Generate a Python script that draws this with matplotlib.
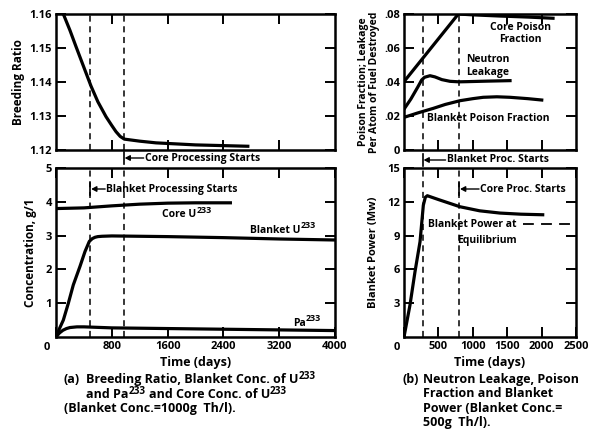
import matplotlib
matplotlib.use("Agg")
import matplotlib.pyplot as plt

FONT = "Open Sans"
plt.rcParams['font.family'] = [FONT, 'DejaVu Sans']
plt.rcParams['font.weight'] = 'bold'

# ---------------- data (a) ----------------
br_days = [105, 200, 287, 400, 502, 600, 717, 800, 860, 920, 980, 1200, 1434, 2000, 2750]
br_vals = [1.160, 1.1552, 1.1504, 1.1443, 1.1388, 1.1342, 1.1298, 1.1272, 1.1254, 1.1240,
           1.1232, 1.1226, 1.1221, 1.1215, 1.1211]

core_days = [0, 400, 800, 1200, 1600, 2000, 2500]
core_vals = [3.80, 3.82, 3.88, 3.93, 3.96, 3.97, 3.97]

blk_days = [0, 50, 105, 177, 248, 344, 416, 478, 520, 559, 600, 660, 800, 1600, 2400, 3200,
            4000]
blk_vals = [0.0, 0.25, 0.5, 1.0, 1.54, 2.09, 2.53, 2.83, 2.91, 2.95, 2.97, 2.98, 2.99, 2.97,
            2.94, 2.90, 2.87]

pa_days = [0, 50, 100, 150, 200, 300, 400, 800, 1600, 2400, 3200, 4000]
pa_vals = [0.0, 0.12, 0.2, 0.25, 0.28, 0.30, 0.30, 0.27, 0.25, 0.23, 0.21, 0.19]

a_blanket_start = 490
a_core_start = 970

# ---------------- data (b) ----------------
cpf_days = [0, 790, 1000, 1395, 1800, 2166]
cpf_vals = [0.0402, 0.080, 0.0795, 0.0788, 0.0782, 0.0775]

leak_days = [0, 100, 200, 257, 300, 378, 450, 550, 669, 800, 911, 1200, 1541]
leak_vals = [0.024, 0.030, 0.037, 0.0412, 0.0428, 0.0437, 0.0430, 0.0414, 0.0404, 0.0401,
             0.0402, 0.0405, 0.0408]

bpf_days = [0, 200, 426, 600, 814, 1000, 1151, 1350, 1541, 1800, 2002]
bpf_vals = [0.0192, 0.0218, 0.0245, 0.0268, 0.029, 0.0302, 0.031, 0.0313, 0.031, 0.0302,
            0.0294]

pow_days = [0, 87, 160, 233, 281, 310, 339, 500, 814, 1100, 1395, 1700, 2016]
pow_vals = [0.0, 2.84, 5.8, 8.46, 11.7, 12.4, 12.54, 12.2, 11.56, 11.2, 11.0, 10.9, 10.85]

eq_days = [1730, 2413]
eq_vals = [10.0, 10.0]

b_blanket_start = 270
b_core_start = 800

# ---------------- layout ----------------
W, H = 611, 429
fig = plt.figure(figsize=(W / 100, H / 100), dpi=100)


def ax_px(x0, y0, x1, y1):
    return fig.add_axes([x0 / W, 1 - y1 / H, (x1 - x0) / W, (y1 - y0) / H])


def fx(x):
    return x / W


def fy(y):
    return 1 - y / H


ax1 = ax_px(56, 14, 335, 150)
ax2 = ax_px(56, 168, 335, 337)
ax3 = ax_px(404, 14, 576, 150)
ax4 = ax_px(404, 168, 576, 337)

LW = 2.3
FS = 7.5
TFS = 8
CFS = 9.0
for ax in (ax1, ax2, ax3, ax4):
    for s in ax.spines.values():
        s.set_linewidth(1.8)
    ax.tick_params(direction='in', length=7, width=1.4, top=True, right=True,
                   labelsize=TFS, pad=3)

# (a) top
ax1.plot(br_days, br_vals, color='black', lw=LW)
ax1.set_xlim(0, 4000)
ax1.set_ylim(1.12, 1.16)
ax1.set_xticks([800, 1600, 2400, 3200])
ax1.set_xticklabels([])
ax1.set_yticks([1.12, 1.13, 1.14, 1.15, 1.16])
ax1.set_yticklabels(['1.12', '1.13', '1.14', '1.15', '1.16'])
ax1.set_ylabel('Breeding Ratio', fontsize=8.5, fontweight='bold', labelpad=3)

# (a) bottom
ax2.plot(core_days, core_vals, color='black', lw=LW)
ax2.plot(blk_days, blk_vals, color='black', lw=LW)
ax2.plot(pa_days, pa_vals, color='black', lw=LW)
ax2.set_xlim(0, 4000)
ax2.set_ylim(0, 5)
ax2.set_xticks([0, 800, 1600, 2400, 3200, 4000])
ax2.set_xticklabels(['', '800', '1600', '2400', '3200', '4000'])
ax2.set_yticks([1, 2, 3, 4, 5])
ax2.set_ylabel('Concentration, g/1', fontsize=8.5, fontweight='bold', labelpad=6)
ax2.set_xlabel('Time (days)', fontsize=9, fontweight='bold', labelpad=3)
fig.text(fx(47), fy(348), '0', fontsize=TFS, ha='center', va='center')

for ax in (ax1, ax2):
    for x in (a_blanket_start, a_core_start):
        ax.axvline(x, color='black', lw=1.1, dashes=(4, 3))

# (b) top
ax3.plot(cpf_days, cpf_vals, color='black', lw=LW)
ax3.plot(leak_days, leak_vals, color='black', lw=LW)
ax3.plot(bpf_days, bpf_vals, color='black', lw=LW)
ax3.set_xlim(0, 2500)
ax3.set_ylim(0, 0.08)
ax3.set_xticks([500, 1000, 1500, 2000])
ax3.set_xticklabels([])
ax3.set_yticks([0, 0.02, 0.04, 0.06, 0.08])
ax3.set_yticklabels(['0', '.02', '.04', '.06', '.08'])
ax3.set_ylabel('Poison Fraction; Leakage\nPer Atom of Fuel Destroyed', fontsize=FS,
               fontweight='bold', labelpad=3, linespacing=1.0)
ax3.text(1690, 0.0685, 'Core Poison\nFraction', fontsize=FS, ha='center', va='center',
         linespacing=1.2)
ax3.text(1220, 0.0494, 'Neutron\nLeakage', fontsize=FS, ha='center', va='center',
         linespacing=1.2)
ax3.text(1228, 0.0188, 'Blanket Poison Fraction', fontsize=FS, ha='center', va='center')

# (b) bottom
ax4.plot(pow_days, pow_vals, color='black', lw=LW)
ax4.plot(eq_days, eq_vals, color='black', lw=1.3, dashes=(6, 4))
ax4.set_xlim(0, 2500)
ax4.set_ylim(0, 15)
ax4.set_xticks([0, 500, 1000, 1500, 2000, 2500])
ax4.set_xticklabels(['', '500', '1000', '1500', '2000', '2500'])
ax4.set_yticks([3, 6, 9, 12, 15])
ax4.set_ylabel('Blanket Power (Mw)', fontsize=8, fontweight='bold', labelpad=6)
ax4.set_xlabel('Time (days)', fontsize=9, fontweight='bold', labelpad=3)
fig.text(fx(397), fy(348), '0', fontsize=TFS, ha='center', va='center')
ax4.text(355, 10.0, 'Blanket Power at', fontsize=FS, ha='left', va='center')
ax4.text(1205, 8.6, 'Equilibrium', fontsize=FS, ha='center', va='center')

for ax in (ax3, ax4):
    for x in (b_blanket_start, b_core_start):
        ax.axvline(x, color='black', lw=1.1, dashes=(4, 3))

fig.canvas.draw()
renderer = fig.canvas.get_renderer()


def text_w(s, fs):
    t = fig.text(0, 0, s, fontsize=fs)
    w = t.get_window_extent(renderer).width
    t.remove()
    return w


def rich(xpx, ypx, parts, fs, ha='left', sup_scale=0.85, rise_f=0.42):
    """parts: list of (string, is_superscript, leading_space). y = baseline in px from top."""
    sfs = fs * sup_scale
    space = text_w('x x', fs) - text_w('xx', fs)
    widths = []
    for s, sup, lead in parts:
        widths.append((space if lead else 0) + text_w(s, sfs if sup else fs))
    total = sum(widths)
    x = xpx - (total / 2 if ha == 'center' else 0)
    rise = fs * rise_f * 100 / 72
    for (s, sup, lead), w in zip(parts, widths):
        xs = x + (space if lead else 0)
        fig.text(fx(xs), fy(ypx - (rise if sup else 0)), s, fontsize=sfs if sup else fs,
                 ha='left', va='baseline')
        x += w


def data_px(ax, x, y):
    X, Y = ax.transData.transform((x, y))
    return X, H - Y


cx, cy = data_px(ax2, 1880, 3.67)
rich(cx, cy + 4, [('Core U', False, False), ('233', True, False)], FS, ha='center')
cx, cy = data_px(ax2, 3250, 3.20)
rich(cx, cy + 4, [('Blanket U', False, False), ('233', True, False)], FS, ha='center')
cx, cy = data_px(ax2, 3600, 0.45)
rich(cx, cy + 4, [('Pa', False, False), ('233', True, False)], FS, ha='center')


# start markers |<-- text
def start_marker(ax, xday, ypx, text, gap_px=17):
    xfig = ax.transData.transform((xday, 0))[0] / W
    y = fy(ypx)
    h = 6 / H
    fig.add_artist(plt.Line2D([xfig, xfig], [y - h, y + h], color='black', lw=1.2))
    tx = xfig + gap_px / W
    fig.text(tx, y, text, fontsize=FS, ha='left', va='center', fontweight='bold')
    fig.add_artist(matplotlib.patches.FancyArrowPatch(
        (tx - 1 / W, y), (xfig + 1 / W, y), transform=fig.transFigure,
        arrowstyle='-|>,head_length=3,head_width=1.6', color='black', lw=1.0,
        shrinkA=0, shrinkB=0))


start_marker(ax1, a_core_start, 158, 'Core Processing Starts', 21)
start_marker(ax2, a_blanket_start, 189, 'Blanket Processing Starts', 16)
start_marker(ax3, b_blanket_start, 160, 'Blanket Proc. Starts', 24)
start_marker(ax4, b_core_start, 189, 'Core Proc. Starts', 21)

# captions
fig.text(fx(64), fy(383), '(a)', fontsize=CFS, ha='left', va='baseline')
rich(86, 383, [('Breeding Ratio, Blanket Conc. of U', False, False), ('233', True, False)],
     CFS, sup_scale=0.8, rise_f=0.3)
rich(86, 398, [('and Pa', False, False), ('233', True, False),
               ('and Core Conc. of U', False, True), ('233', True, False)], CFS,
     sup_scale=0.8, rise_f=0.3)
fig.text(fx(64), fy(412), '(Blanket Conc.=1000g  Th/l).', fontsize=CFS, ha='left',
         va='baseline')

fig.text(fx(403), fy(383), '(b)', fontsize=CFS, ha='left', va='baseline')
for i, line in enumerate(['Neutron Leakage, Poison', 'Fraction and Blanket',
                          'Power (Blanket Conc.=', '500g  Th/l).']):
    fig.text(fx(423), fy(383 + 14.3 * i), line, fontsize=CFS, ha='left', va='baseline')

fig.savefig('out.png', dpi=100)
